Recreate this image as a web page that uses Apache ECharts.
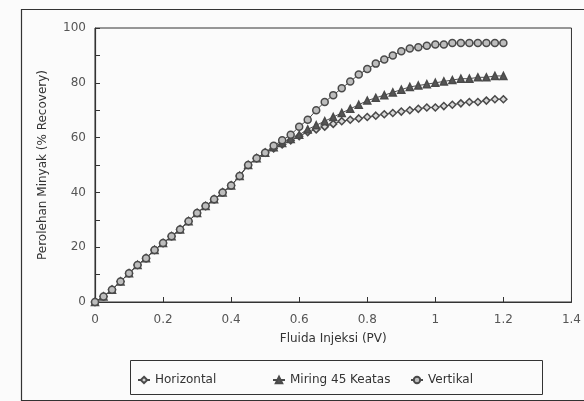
<!DOCTYPE html>
<html><head><meta charset="utf-8">
<script src="https://cdn.jsdelivr.net/npm/echarts@6/dist/echarts.min.js"></script>
<style>html,body{margin:0;padding:0;background:#fbfbfb;}#c{width:584px;height:401px;}</style>
</head><body><div id="c"></div>
<script>
var pv = [0,0.025,0.05,0.075,0.1,0.125,0.15,0.175,0.2,0.225,0.25,0.275,0.3,0.325,0.35,0.375,0.4,0.425,0.45,0.475,0.5,
  0.525,0.55,0.575,0.6,0.625,0.65,0.675,0.7,0.725,0.75,0.775,0.8,0.825,0.85,0.875,0.9,0.925,0.95,0.975,1.0,
  1.025,1.05,1.075,1.1,1.125,1.15,1.175,1.2];
var horizontal = [0,2,4.5,7.5,10.5,13.5,16,19,21.5,24,26.5,29.5,32.5,35,37.5,40,42.5,46,50,52.5,54.5,
  56,57.5,59,60.5,62,63,64,65,66,66.5,67,67.5,68,68.5,69,69.5,70,70.5,71,71,
  71.5,72,72.5,73,73,73.5,74,74];
var miring = [0,2,4.5,7.5,10.5,13.5,16,19,21.5,24,26.5,29.5,32.5,35,37.5,40,42.5,46,50,52.5,54.5,
  56.5,58,59.5,61,63,64.5,66,67.5,69,70.5,72,73.5,74.5,75.5,76.5,77.5,78.5,79,79.5,80,
  80.5,81,81.5,81.5,82,82,82.5,82.5];
var vertikal = [0,2,4.5,7.5,10.5,13.5,16,19,21.5,24,26.5,29.5,32.5,35,37.5,40,42.5,46,50,52.5,54.5,
  57,59,61,64,66.5,70,73,75.5,78,80.5,83,85,87,88.5,90,91.5,92.5,93,93.5,94,
  94,94.5,94.5,94.5,94.5,94.5,94.5,94.5];
var seriesNames = ['Horizontal','Miring 45 Keatas','Vertikal'];
var xTicks = ['0','0.2','0.4','0.6','0.8','1','1.2','1.4'];

function pairs(ys){ return pv.map(function(x,i){ return [x, ys[i]]; }); }
var ink = '#4a4a4a';
var font = 'DejaVu Sans, sans-serif';
var chart = echarts.init(document.getElementById('c'));
function mkSeries(name, ys, symbol, fill, size){
  return {type:'line', name:name, data:pairs(ys), symbol:symbol, symbolSize:size,
    lineStyle:{color:ink,width:1}, itemStyle:{color:fill,borderColor:ink,borderWidth:1.5},
    emphasis:{disabled:true}, animation:false};
}
function mkLegend(name, left){
  return {data:[name], left:left, top:369, itemWidth:12, itemHeight:8, itemGap:0,
    textStyle:{fontFamily:font,fontSize:12,color:'#333'}, selectedMode:false};
}
chart.setOption({
  backgroundColor:'#fbfbfb',
  animation:false,
  grid:{left:95,right:11,top:28,bottom:99,show:true,borderColor:'#333',borderWidth:1,backgroundColor:'transparent'},
  xAxis:{type:'value',min:0,max:1.4,interval:0.2,
    name:'Fluida Injeksi (PV)',nameLocation:'middle',nameGap:31,
    nameTextStyle:{fontFamily:font,fontSize:12,color:'#333'},
    axisLine:{show:true,lineStyle:{color:'#333',width:1.2}},
    axisTick:{show:true,inside:true,length:5,lineStyle:{color:'#333'}},
    axisLabel:{margin:12,fontFamily:font,fontSize:12,color:'#555',
      formatter:function(v){ return xTicks[Math.round(v/0.2)]; }},
    splitLine:{show:false}},
  yAxis:{type:'value',min:0,max:100,interval:20,
    name:'Perolehan Minyak (% Recovery)',nameLocation:'middle',nameGap:46,
    nameTextStyle:{fontFamily:font,fontSize:12,color:'#333'},
    axisLine:{show:true,lineStyle:{color:'#333',width:1.2}},
    axisTick:{show:true,inside:true,length:5,lineStyle:{color:'#333'}},
    minorTick:{show:true,splitNumber:2,length:5,lineStyle:{color:'#333'}},
    axisLabel:{margin:9,fontFamily:font,fontSize:12,color:'#555'},
    splitLine:{show:false}},
  legend:[mkLegend(seriesNames[0],132), mkLegend(seriesNames[1],267), mkLegend(seriesNames[2],405)],
  graphic:[
    {type:'rect',left:19,top:7,shape:{x:0,y:0,width:575,height:391},
      style:{fill:null,stroke:'#333',lineWidth:1.2},silent:true},
    {type:'rect',left:128,top:358,shape:{x:0,y:0,width:412,height:34},
      style:{fill:null,stroke:'#333',lineWidth:1},silent:true}
  ],
  series:[
    mkSeries(seriesNames[0], horizontal, 'diamond', '#d8d8d8', 7),
    mkSeries(seriesNames[1], miring, 'triangle', '#555', 7),
    mkSeries(seriesNames[2], vertikal, 'circle', '#bdbdbd', 7)
  ]
});
</script></body></html>
